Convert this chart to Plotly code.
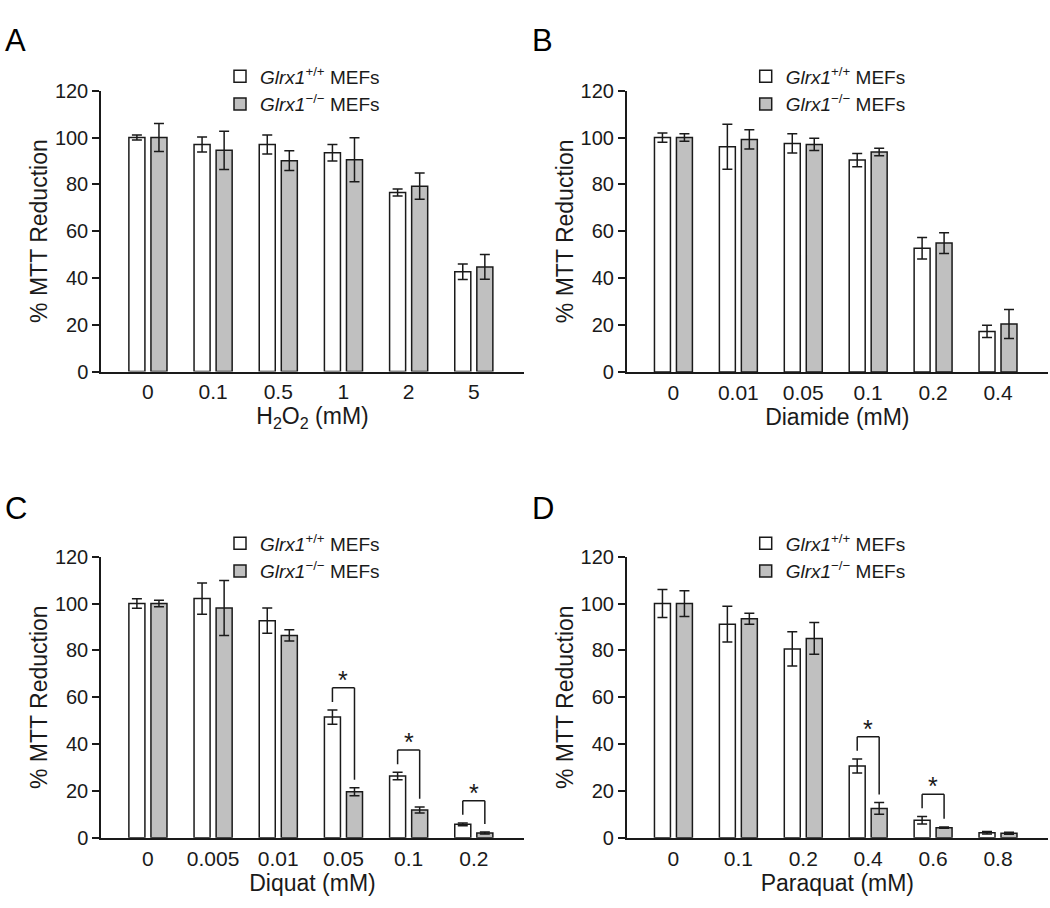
import plotly.graph_objects as go

# ---------------- data ----------------
h2o2_doses = ['0', '0.1', '0.5', '1', '2', '5']
h2o2_wt = [100, 97.0, 97.0, 93.5, 76.5, 42.6]
h2o2_wt_err = [1.1, 3.2, 4.1, 3.5, 1.5, 3.3]
h2o2_ko = [100, 94.5, 90.1, 90.5, 79.2, 44.7]
h2o2_ko_err = [6.0, 8.2, 4.2, 9.4, 5.6, 5.3]
h2o2_sig = []

diamide_doses = ['0', '0.01', '0.05', '0.1', '0.2', '0.4']
diamide_wt = [100, 96.1, 97.5, 90.4, 52.8, 17.3]
diamide_wt_err = [2.0, 9.6, 4.1, 2.8, 4.6, 2.6]
diamide_ko = [100, 99.2, 97.1, 93.8, 55.0, 20.5]
diamide_ko_err = [1.6, 4.1, 2.6, 1.6, 4.4, 6.2]
diamide_sig = []

diquat_doses = ['0', '0.005', '0.01', '0.05', '0.1', '0.2']
diquat_wt = [100, 102.1, 92.7, 51.5, 26.3, 5.7]
diquat_wt_err = [2.0, 6.7, 5.4, 3.0, 1.6, 0.6]
diquat_ko = [100, 98.1, 86.4, 19.6, 11.8, 2.0]
diquat_ko_err = [1.4, 11.7, 2.4, 1.7, 1.3, 0.4]
diquat_sig = ['0.05', '0.1', '0.2']

paraquat_doses = ['0', '0.1', '0.2', '0.4', '0.6', '0.8']
paraquat_wt = [100, 91.2, 80.6, 30.6, 7.5, 2.1]
paraquat_wt_err = [6.0, 7.6, 7.3, 3.0, 1.6, 0.5]
paraquat_ko = [100, 93.5, 85.1, 12.5, 4.3, 1.9]
paraquat_ko_err = [5.5, 2.4, 6.8, 2.5, 0.3, 0.4]
paraquat_sig = ['0.4', '0.6']

panel_letters = ['A', 'B', 'C', 'D']
x_titles = ['H<sub>2</sub>O<sub>2</sub> (mM)', 'Diamide (mM)', 'Diquat (mM)', 'Paraquat (mM)']
y_title = '% MTT Reduction'
y_ticks = [0, 20, 40, 60, 80, 100, 120]
wt_label = '<i>Glrx1</i><sup>+/+</sup> MEFs'
ko_label = '<i>Glrx1</i><sup>\u2212/\u2212</sup> MEFs'

# ---------------- styles / layout ----------------
W, H = 1050, 908
FONT = 'Liberation Sans, Arial, Helvetica, sans-serif'
INK = '#1a1a1a'
GRAY = '#c0c0c0'
BARGAP = 0.323
BARGROUPGAP = 0.273
OFF = (1 - BARGAP) / 4.0

# pixel boxes of plot areas: (left, right, top, bottom)
boxes = [(101, 524, 90.7, 371.5), (626.7, 1048, 90.7, 372),
         (101, 524, 556.7, 837.7), (626.7, 1048, 556.7, 837.7)]
legend_pos = [(220, 57.5), (745.7, 57.5), (220, 524.5), (745.7, 524.5)]
letter_pos = [(3, 41), (530, 41), (3, 508), (530, 508)]

panels = [
    (h2o2_doses, h2o2_wt, h2o2_wt_err, h2o2_ko, h2o2_ko_err, h2o2_sig),
    (diamide_doses, diamide_wt, diamide_wt_err, diamide_ko, diamide_ko_err, diamide_sig),
    (diquat_doses, diquat_wt, diquat_wt_err, diquat_ko, diquat_ko_err, diquat_sig),
    (paraquat_doses, paraquat_wt, paraquat_wt_err, paraquat_ko, paraquat_ko_err, paraquat_sig),
]

fig = go.Figure()
shapes = []
annotations = []
layout_axes = {}

for k, (doses, wt, wt_err, ko, ko_err, sig) in enumerate(panels):
    n = '' if k == 0 else str(k + 1)
    xa, ya = 'x' + n, 'y' + n
    lg = 'legend' + n
    fig.add_trace(go.Bar(
        x=doses, y=wt, name=wt_label, xaxis=xa, yaxis=ya, legend=lg,
        marker=dict(color='white', line=dict(color=INK, width=1.5)),
        error_y=dict(type='data', array=wt_err, color=INK, thickness=1.5, width=5),
    ))
    fig.add_trace(go.Bar(
        x=doses, y=ko, name=ko_label, xaxis=xa, yaxis=ya, legend=lg,
        marker=dict(color=GRAY, line=dict(color=INK, width=1.5)),
        error_y=dict(type='data', array=ko_err, color=INK, thickness=1.5, width=5),
    ))

    l, r, t, b = boxes[k]
    layout_axes['xaxis' + n] = dict(
        domain=[l / W, r / W], anchor=ya, type='category', automargin=False,
        categoryorder='array', categoryarray=doses,
        range=[-0.72, len(doses) - 0.23],
        showline=True, linecolor=INK, linewidth=1.5,
        ticks='outside', ticklen=1, tickcolor='rgba(0,0,0,0)',
        tickfont=dict(family=FONT, size=21, color=INK),
        title=dict(text=x_titles[k], font=dict(family=FONT, size=23, color=INK), standoff=4),
        showgrid=False, zeroline=False, fixedrange=True,
    )
    layout_axes['yaxis' + n] = dict(
        domain=[1 - b / H, 1 - t / H], anchor=xa, automargin=False,
        range=[0, 120], tickvals=y_ticks,
        showline=True, linecolor=INK, linewidth=1.5,
        ticks='outside', ticklen=7, tickwidth=1.5, tickcolor=INK,
        tickfont=dict(family=FONT, size=20, color=INK),
        title=dict(text=y_title, font=dict(family=FONT, size=23, color=INK), standoff=1),
        showgrid=False, zeroline=False, fixedrange=True,
    )

    lx, ly = legend_pos[k]
    layout_axes[lg] = dict(
        x=lx / W, y=1 - ly / H, xanchor='left', yanchor='top',
        xref='paper', yref='paper',
        bgcolor='rgba(0,0,0,0)', borderwidth=0,
        font=dict(family=FONT, size=19, color=INK),
        tracegroupgap=0, itemclick=False, itemdoubleclick=False,
    )

    # panel letter
    px, py = letter_pos[k]
    annotations.append(dict(
        text=panel_letters[k], x=px / W, y=1 - py / H, xref='paper', yref='paper',
        xanchor='left', yanchor='middle', showarrow=False,
        font=dict(family=FONT, size=31, color='black'),
    ))

    # significance brackets
    for c in sig:
        i = doses.index(c)
        lb = wt[i] + wt_err[i] + 3.5
        rb = ko[i] + ko_err[i] + 3.5
        top = max(lb, rb) + 6.0
        x1, x2 = i - OFF, i + OFF
        for (xa0, ya0, xa1, ya1) in [(x1, lb, x1, top), (x1, top, x2, top), (x2, top, x2, rb)]:
            shapes.append(dict(type='line', xref=xa, yref=ya, x0=xa0, y0=ya0, x1=xa1, y1=ya1,
                               line=dict(color=INK, width=1.5)))
        annotations.append(dict(
            text='*', x=i, y=top, xref=xa, yref=ya, xanchor='center', yanchor='bottom',
            yshift=-8, showarrow=False, font=dict(family=FONT, size=25, color=INK),
        ))

fig.update_layout(
    template='none',
    width=W, height=H, margin=dict(l=0, r=0, t=0, b=0, pad=0),
    paper_bgcolor='white', plot_bgcolor='white',
    barmode='group', bargap=BARGAP, bargroupgap=BARGROUPGAP,
    showlegend=True, shapes=shapes, annotations=annotations,
    font=dict(family=FONT, color=INK),
    **layout_axes,
)

fig.write_html('out.html', config={'displayModeBar': False},
               post_script="document.body.style.margin='0';document.body.style.padding='0';"
                           "document.body.style.overflow='hidden';")
